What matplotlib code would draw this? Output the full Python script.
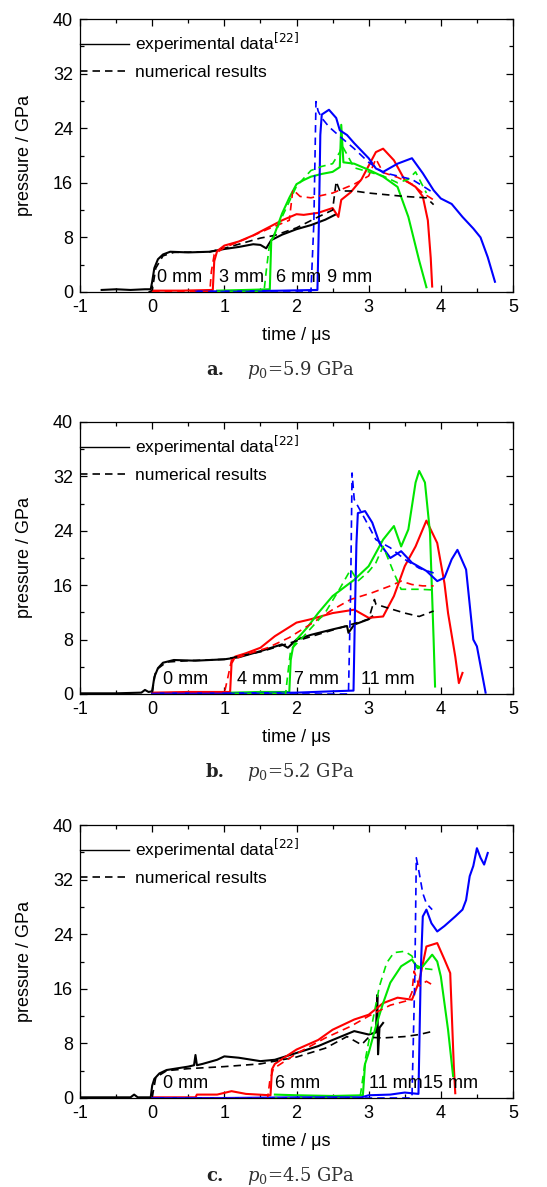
import matplotlib
matplotlib.use("Agg")
import matplotlib.pyplot as plt
from matplotlib.lines import Line2D
from matplotlib.ticker import MultipleLocator

SANS = ['Liberation Sans Narrow', 'Liberation Sans', 'DejaVu Sans']
plt.rcParams['font.family'] = SANS
plt.rcParams['axes.unicode_minus'] = False

# ---------------- panel a: p0 = 5.9 GPa ----------------
a_k_exp_t = [-0.7, -0.5, -0.3, -0.1, -0.02, 0.0, 0.03, 0.08, 0.15, 0.25, 0.5, 0.8, 1.0, 1.2, 1.4, 1.5, 1.58, 1.65, 1.8, 2.0, 2.2, 2.4, 2.55]
a_k_exp_p = [0.3, 0.4, 0.3, 0.4, 0.4, 1.5, 3.5, 4.8, 5.5, 5.9, 5.8, 5.9, 6.3, 6.6, 7.0, 6.9, 6.4, 7.6, 8.4, 9.2, 9.8, 10.6, 11.4]
a_k_num_t = [-0.05, 0.0, 0.05, 0.15, 0.3, 0.8, 1.0, 1.3, 1.5, 1.7, 2.0, 2.3, 2.5, 2.55, 2.6, 2.8, 3.0, 3.3, 3.5, 3.8, 3.9]
a_k_num_p = [0.0, 0.2, 3.5, 5.3, 5.8, 5.9, 6.4, 7.3, 7.9, 8.3, 9.4, 11.0, 12.0, 16.2, 14.8, 14.8, 14.5, 14.2, 14.0, 13.8, 12.8]
a_r_exp_t = [0.0, 0.4, 0.84, 0.86, 0.9, 1.0, 1.2, 1.4, 1.6, 1.8, 2.0, 2.1, 2.3, 2.5, 2.58, 2.62, 2.75, 2.9, 3.0, 3.1, 3.2, 3.35, 3.5, 3.65, 3.75, 3.82, 3.86, 3.88]
a_r_exp_p = [0.2, 0.2, 0.3, 4.5, 6.0, 6.8, 7.4, 8.3, 9.4, 10.5, 11.4, 11.3, 11.6, 12.3, 11.0, 13.5, 14.6, 16.5, 18.5, 20.5, 21.0, 19.3, 16.4, 15.4, 14.0, 10.5, 5.0, 0.8]
a_r_num_t = [0.0, 0.8, 0.82, 0.86, 1.0, 1.3, 1.6, 1.9, 1.95, 2.05, 2.2, 2.5, 2.8, 3.0, 3.1, 3.2, 3.4, 3.6, 3.75, 3.9]
a_r_num_p = [0.1, 0.1, 3.0, 5.5, 6.5, 7.8, 9.2, 10.5, 15.0, 14.0, 13.8, 14.5, 15.8, 17.0, 19.5, 17.5, 16.8, 15.8, 14.5, 13.5]
a_g_exp_t = [0.9, 1.3, 1.63, 1.65, 1.7, 1.8, 1.9, 2.0, 2.1, 2.2, 2.35, 2.5, 2.6, 2.62, 2.65, 2.8, 3.0, 3.2, 3.4, 3.55, 3.7, 3.8]
a_g_exp_p = [0.2, 0.3, 0.4, 7.5, 8.6, 11.5, 13.8, 15.8, 16.4, 16.9, 17.3, 17.6, 18.3, 24.5, 19.0, 18.8, 17.9, 16.9, 15.4, 11.0, 4.6, 0.7]
a_g_num_t = [0.9, 1.55, 1.58, 1.62, 1.8, 2.0, 2.2, 2.35, 2.5, 2.6, 2.63, 2.8, 3.0, 3.2, 3.4, 3.55, 3.65, 3.8]
a_g_num_p = [0.1, 0.1, 3.0, 6.5, 11.0, 15.5, 17.8, 18.4, 18.8, 20.5, 21.5, 18.2, 17.6, 17.0, 16.0, 16.5, 17.6, 14.5]
a_b_exp_t = [0.6, 1.2, 1.8, 2.29, 2.31, 2.33, 2.35, 2.45, 2.55, 2.6, 2.7, 2.8, 3.0, 3.1, 3.2, 3.4, 3.6, 3.75, 3.9, 4.0, 4.15, 4.3, 4.45, 4.55, 4.65, 4.75]
a_b_exp_p = [0.1, 0.1, 0.2, 0.3, 10.0, 23.0, 26.0, 26.7, 25.5, 23.7, 23.0, 21.8, 19.6, 18.1, 17.6, 18.8, 19.6, 17.4, 14.9, 13.7, 12.9, 11.0, 9.3, 8.0, 5.1, 1.5]
a_b_num_t = [0.6, 2.2, 2.24, 2.27, 2.3, 2.35, 2.45, 2.6, 2.8, 3.0, 3.2, 3.4, 3.6, 3.8, 3.9]
a_b_num_p = [0.0, 0.0, 10.0, 27.9, 26.5, 25.5, 24.2, 22.8, 21.0, 19.0, 17.5, 17.0, 16.5, 15.2, 14.5]
a_labels = ['0 mm', '3 mm', '6 mm', '9 mm']
a_label_x = [0.07, 0.93, 1.72, 2.42]

# ---------------- panel b: p0 = 5.2 GPa ----------------
b_k_exp_t = [-1.0, -0.5, -0.15, -0.1, -0.05, 0.0, 0.03, 0.08, 0.15, 0.3, 0.6, 1.0, 1.2, 1.5, 1.8, 1.88, 1.92, 2.0, 2.2, 2.5, 2.7, 2.72, 2.8, 3.0, 3.05]
b_k_exp_p = [0.1, 0.1, 0.2, 0.6, 0.3, 0.4, 2.5, 3.8, 4.6, 5.0, 4.9, 5.1, 5.4, 6.3, 7.3, 6.8, 7.2, 8.0, 8.7, 9.5, 10.0, 9.0, 10.2, 11.0, 11.4]
b_k_num_t = [0.0, 0.05, 0.2, 0.5, 1.0, 1.5, 2.0, 2.5, 3.0, 3.08, 3.1, 3.25, 3.5, 3.7, 3.9]
b_k_num_p = [0.2, 3.5, 4.7, 4.9, 5.1, 6.2, 7.8, 9.4, 11.0, 13.9, 13.2, 12.7, 11.9, 11.4, 12.2]
b_r_exp_t = [0.0, 0.5, 1.08, 1.1, 1.15, 1.3, 1.5, 1.7, 2.0, 2.2, 2.5, 2.8, 3.0, 3.2, 3.35, 3.5, 3.65, 3.8, 3.95, 4.05, 4.1, 4.2, 4.25, 4.3]
b_r_exp_p = [0.2, 0.3, 0.3, 4.5, 5.5, 6.0, 6.8, 8.5, 10.5, 11.0, 11.9, 12.4, 11.2, 11.4, 14.4, 18.8, 21.7, 25.5, 22.2, 16.3, 11.9, 5.5, 1.6, 3.1]
b_r_num_t = [0.0, 1.0, 1.05, 1.1, 1.3, 1.6, 1.9, 2.2, 2.5, 2.75, 3.05, 3.3, 3.45, 3.6, 3.75, 3.9]
b_r_num_p = [0.1, 0.1, 2.5, 5.0, 5.8, 6.8, 8.3, 10.3, 12.4, 13.9, 14.9, 15.9, 16.6, 16.1, 15.9, 15.9]
b_g_exp_t = [1.1, 1.5, 1.9, 1.92, 1.95, 2.0, 2.15, 2.3, 2.5, 2.8, 3.0, 3.2, 3.35, 3.45, 3.55, 3.65, 3.7, 3.78, 3.85, 3.9, 3.92]
b_g_exp_p = [0.2, 0.3, 0.3, 5.0, 6.8, 8.0, 9.8, 11.9, 14.4, 16.8, 18.8, 22.7, 24.7, 21.7, 24.2, 31.1, 32.8, 31.1, 23.7, 8.0, 1.1]
b_g_num_t = [1.1, 1.85, 1.88, 1.92, 2.1, 2.4, 2.6, 2.75, 2.85, 3.0, 3.1, 3.2, 3.35, 3.45, 3.7, 3.9]
b_g_num_p = [0.1, 0.1, 3.0, 6.5, 8.5, 12.0, 15.5, 18.3, 16.6, 18.0, 19.3, 21.7, 17.8, 15.4, 15.4, 15.3]
b_b_exp_t = [0.0, 1.0, 2.0, 2.5, 2.79, 2.81, 2.83, 2.85, 2.95, 3.05, 3.15, 3.3, 3.45, 3.6, 3.8, 3.95, 4.05, 4.15, 4.23, 4.35, 4.45, 4.5, 4.62]
b_b_exp_p = [0.1, 0.1, 0.2, 0.4, 0.5, 12.0, 22.0, 26.6, 26.9, 25.2, 22.2, 20.0, 21.0, 19.3, 18.1, 16.6, 17.1, 19.8, 21.2, 18.3, 8.0, 7.0, 0.2]
b_b_num_t = [0.0, 2.72, 2.75, 2.77, 2.8, 2.95, 3.1, 3.3, 3.5, 3.7, 3.9]
b_b_num_p = [0.0, 0.0, 15.0, 32.5, 28.6, 25.7, 22.7, 21.5, 19.8, 18.5, 17.8]
b_labels = ['0 mm', '4 mm', '7 mm', '11 mm']
b_label_x = [0.15, 1.17, 1.97, 2.9]

# ---------------- panel c: p0 = 4.5 GPa ----------------
c_k_exp_t = [-1.0, -0.6, -0.3, -0.25, -0.2, -0.02, 0.0, 0.03, 0.1, 0.2, 0.5, 0.58, 0.6, 0.62, 0.7, 0.9, 1.0, 1.2, 1.5, 1.7, 2.0, 2.3, 2.5, 2.8, 3.0, 3.1, 3.12, 3.13, 3.15, 3.2]
c_k_exp_p = [0.1, 0.1, 0.1, 0.5, 0.1, 0.1, 1.8, 2.8, 3.6, 4.1, 4.6, 4.8, 6.3, 4.8, 5.0, 5.6, 6.1, 5.9, 5.4, 5.6, 6.6, 7.6, 8.5, 9.8, 9.3, 9.6, 15.1, 6.4, 10.3, 11.0]
c_k_num_t = [0.0, 0.05, 0.2, 0.5, 1.0, 1.5, 2.0, 2.4, 2.7, 2.9, 3.0, 3.2, 3.5, 3.7, 3.9]
c_k_num_p = [0.1, 3.0, 4.0, 4.3, 4.6, 5.0, 6.0, 7.3, 9.0, 7.8, 8.9, 8.8, 9.0, 9.3, 9.8]
c_r_exp_t = [0.0, 0.6, 0.62, 0.9, 1.1, 1.3, 1.64, 1.66, 1.7, 2.0, 2.3, 2.5, 2.8, 3.0, 3.2, 3.4, 3.6, 3.7, 3.8, 3.95, 4.05, 4.13, 4.18, 4.2]
c_r_exp_p = [0.1, 0.1, 0.5, 0.5, 1.0, 0.6, 0.4, 4.2, 5.0, 7.1, 8.5, 10.0, 11.5, 12.2, 13.9, 14.7, 14.4, 17.1, 22.2, 22.7, 20.3, 18.3, 4.6, 0.7]
c_r_num_t = [0.0, 1.6, 1.63, 1.68, 2.0, 2.4, 2.75, 3.0, 3.3, 3.55, 3.6, 3.63, 3.7, 3.8, 3.88]
c_r_num_p = [0.0, 0.0, 2.5, 4.3, 6.5, 8.8, 10.5, 12.0, 13.6, 14.3, 15.5, 18.6, 16.4, 17.1, 16.6]
c_g_exp_t = [1.7, 2.0, 2.5, 2.92, 2.95, 3.0, 3.1, 3.2, 3.3, 3.45, 3.6, 3.68, 3.75, 3.88, 3.95, 4.0, 4.1, 4.17]
c_g_exp_p = [0.5, 0.4, 0.3, 0.4, 5.0, 6.6, 10.5, 13.9, 16.9, 19.3, 20.3, 19.0, 19.3, 21.0, 20.0, 17.8, 10.0, 3.2]
c_g_num_t = [1.7, 2.88, 2.92, 2.96, 3.05, 3.15, 3.25, 3.35, 3.5, 3.6, 3.65, 3.75, 3.9]
c_g_num_p = [0.0, 0.0, 3.0, 6.0, 11.0, 16.4, 19.8, 21.3, 21.5, 20.8, 19.5, 19.0, 18.8]
c_b_exp_t = [0.0, 1.0, 2.0, 2.9, 3.0, 3.3, 3.5, 3.69, 3.71, 3.72, 3.73, 3.75, 3.8, 3.87, 3.95, 4.05, 4.2, 4.3, 4.35, 4.4, 4.45, 4.5, 4.55, 4.6, 4.65]
c_b_exp_p = [0.0, 0.0, 0.1, 0.1, 0.4, 0.5, 0.8, 0.6, 12.0, 17.5, 21.0, 26.6, 27.6, 25.6, 24.4, 25.2, 26.6, 27.6, 29.0, 32.5, 34.0, 36.6, 35.2, 34.2, 35.9]
c_b_num_t = [0.0, 3.6, 3.64, 3.66, 3.7, 3.75, 3.8, 3.88]
c_b_num_p = [0.0, 0.0, 18.0, 35.2, 33.0, 30.0, 28.5, 27.6]
c_labels = ['0 mm', '6 mm', '11 mm', '15 mm']
c_label_x = [0.15, 1.7, 3.0, 3.75]

captions = [('a.', '5.9'), ('b.', '5.2'), ('c.', '4.5')]
legend_texts = ['experimental data$^{[22]}$', 'numerical results']
x_ticks = [-1, 0, 1, 2, 3, 4, 5]
y_ticks = [0, 8, 16, 24, 32, 40]

COLORS = {'k': '#000000', 'r': '#ff0000', 'g': '#00e600', 'b': '#0000ff'}

W, H = 547, 1187
fig = plt.figure(figsize=(W / 100, H / 100), dpi=100)

# axes boxes in pixels: (top, bottom)
boxes = [(19, 292), (422, 694), (825, 1098)]
left_px, right_px = 80, 513

panels = [
    dict(data=[('k', a_k_exp_t, a_k_exp_p, a_k_num_t, a_k_num_p),
               ('r', a_r_exp_t, a_r_exp_p, a_r_num_t, a_r_num_p),
               ('g', a_g_exp_t, a_g_exp_p, a_g_num_t, a_g_num_p),
               ('b', a_b_exp_t, a_b_exp_p, a_b_num_t, a_b_num_p)],
         labels=a_labels, lx=a_label_x),
    dict(data=[('k', b_k_exp_t, b_k_exp_p, b_k_num_t, b_k_num_p),
               ('r', b_r_exp_t, b_r_exp_p, b_r_num_t, b_r_num_p),
               ('g', b_g_exp_t, b_g_exp_p, b_g_num_t, b_g_num_p),
               ('b', b_b_exp_t, b_b_exp_p, b_b_num_t, b_b_num_p)],
         labels=b_labels, lx=b_label_x),
    dict(data=[('k', c_k_exp_t, c_k_exp_p, c_k_num_t, c_k_num_p),
               ('r', c_r_exp_t, c_r_exp_p, c_r_num_t, c_r_num_p),
               ('g', c_g_exp_t, c_g_exp_p, c_g_num_t, c_g_num_p),
               ('b', c_b_exp_t, c_b_exp_p, c_b_num_t, c_b_num_p)],
         labels=c_labels, lx=c_label_x),
]

DASH = (4.5, 3.0)

for i, (pan, (top, bot)) in enumerate(zip(panels, boxes)):
    ax = fig.add_axes([left_px / W, 1 - bot / H, (right_px - left_px) / W, (bot - top) / H])
    for key, et, ep, nt, np_ in pan['data']:
        c = COLORS[key]
        ax.plot(et, ep, color=c, lw=1.5, solid_joinstyle='round', zorder=2)
        ax.plot(nt, np_, color=c, lw=1.2, dashes=DASH, zorder=3)
    ax.set_xlim(-1, 5)
    ax.set_ylim(0, 40)
    ax.set_xticks(x_ticks)
    ax.set_yticks(y_ticks)
    ax.xaxis.set_minor_locator(MultipleLocator(0.5))
    ax.yaxis.set_minor_locator(MultipleLocator(4))
    ax.tick_params(which='both', direction='in', top=True, right=True, labelsize=13, width=0.9)
    ax.tick_params(which='major', length=5, pad=5)
    ax.tick_params(which='minor', length=3)
    for s in ax.spines.values():
        s.set_linewidth(0.9)
    ax.set_xlabel('time / μs', fontsize=13, labelpad=8)
    ax.set_ylabel('pressure / GPa', fontsize=13, labelpad=14)
    for lab, x in zip(pan['labels'], pan['lx']):
        ax.text(x, 0.9, lab, fontsize=13, ha='left', va='bottom', zorder=4)
    handles = [Line2D([], [], color='k', lw=1.0),
               Line2D([], [], color='k', lw=1.2, dashes=DASH)]
    ax.legend(handles, legend_texts, loc='upper left', bbox_to_anchor=(0.0, 0.955),
              frameon=False, fontsize=12.5, handlelength=2.8, handletextpad=0.35,
              labelspacing=0.55, borderpad=0, borderaxespad=0)
    # caption
    cap_y = 1 - (bot + 78) / H
    fig.text(206 / W, cap_y, captions[i][0], fontsize=13, fontweight='bold',
             family='DejaVu Serif', ha='left', va='center', color='#222222')
    fig.text(247 / W, cap_y, r'$p_0$=' + captions[i][1] + ' GPa', fontsize=13,
             family='DejaVu Serif', math_fontfamily='dejavuserif', ha='left', va='center',
             color='#333333')

fig.savefig('out.png', dpi=100)
